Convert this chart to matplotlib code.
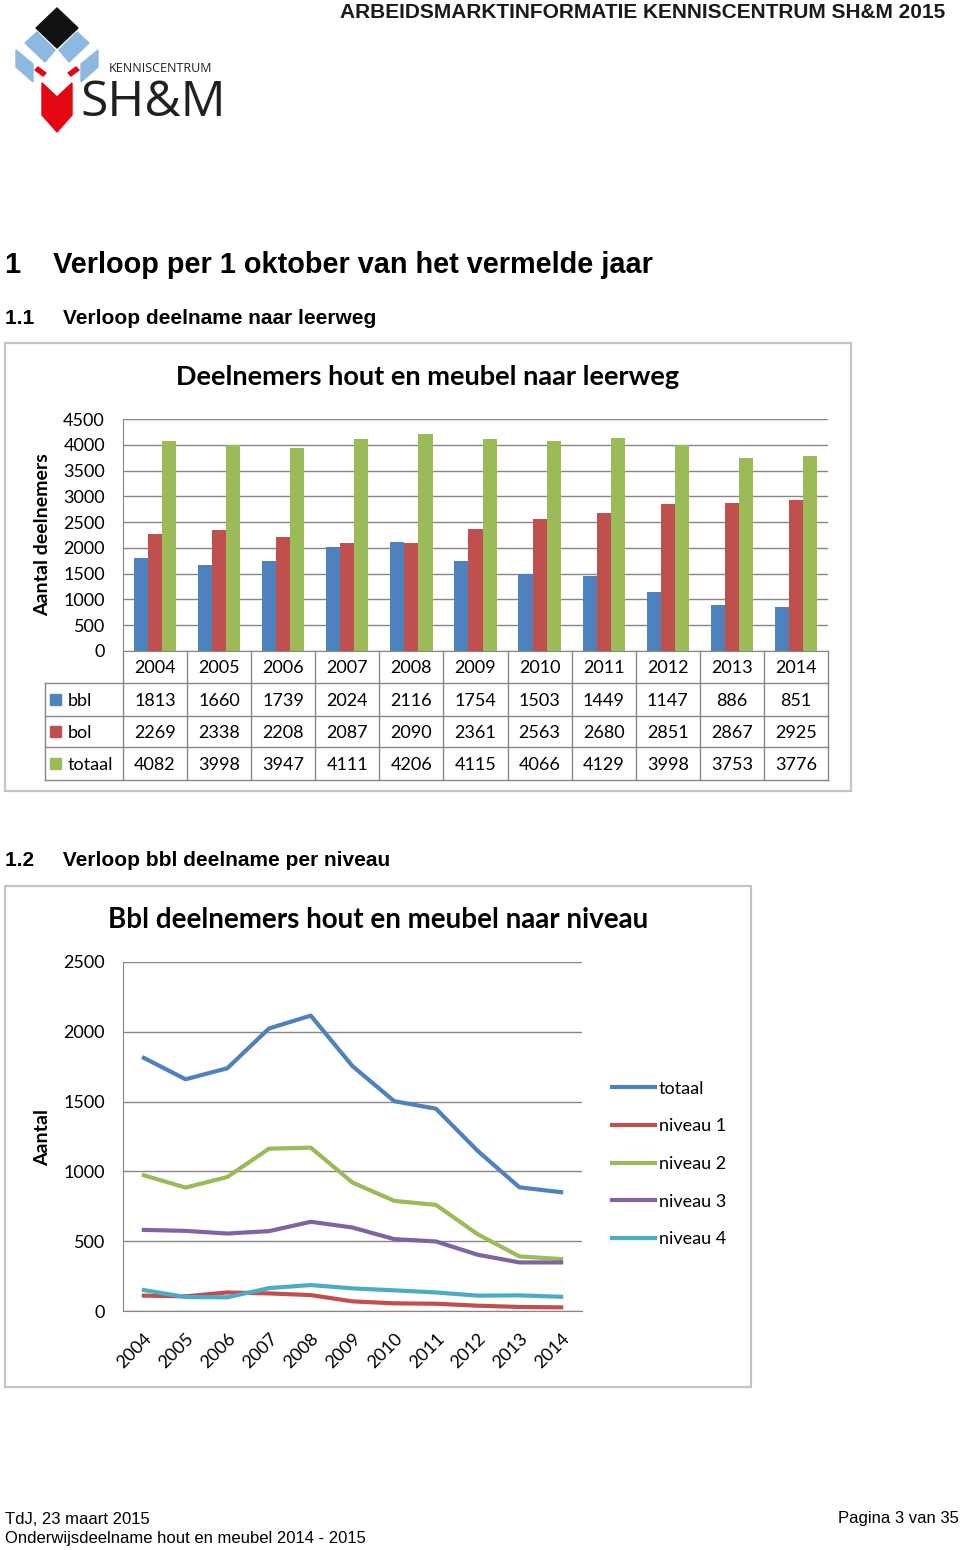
import numpy as np
import matplotlib.pyplot as plt
from matplotlib.patches import Polygon, Rectangle

years = ['2004', '2005', '2006', '2007', '2008', '2009', '2010', '2011', '2012', '2013', '2014']
bbl = [1813, 1660, 1739, 2024, 2116, 1754, 1503, 1449, 1147, 886, 851]
bol = [2269, 2338, 2208, 2087, 2090, 2361, 2563, 2680, 2851, 2867, 2925]
totaal = [4082, 3998, 3947, 4111, 4206, 4115, 4066, 4129, 3998, 3753, 3776]

# bbl per niveau
niv_totaal = bbl
niveau1 = [110, 105, 133, 126, 114, 69, 55, 52, 38, 29, 26]
niveau2 = [972, 884, 960, 1163, 1170, 920, 789, 760, 550, 391, 372]
niveau3 = [581, 574, 555, 572, 639, 598, 515, 498, 403, 348, 348]
niveau4 = [150, 100, 98, 164, 186, 162, 148, 133, 110, 112, 102]

C_BLUE = '#4F81BD'
C_RED = '#C0504D'
C_GREEN = '#9BBB59'
C_PURPLE = '#8064A2'
C_CYAN = '#4BACC6'
GRID = '#868686'
CHART_FONT = ['Lato', 'DejaVu Sans']
DOC_FONT = ['Liberation Sans', 'DejaVu Sans']
FS = 13

W, H = 960, 1550
fig = plt.figure(figsize=(W / 100, H / 100), dpi=100)
bg = fig.add_axes([0, 0, 1, 1])
bg.set_xlim(0, W)
bg.set_ylim(H, 0)
bg.axis('off')


def px_rect(l, t, r, b):
    return [l / W, 1 - b / H, (r - l) / W, (b - t) / H]


# ---- page header / logo
bg.text(945, 12, 'ARBEIDSMARKTINFORMATIE KENNISCENTRUM SH&M 2015', ha='right', va='center',
        fontsize=15, fontweight='bold', family=DOC_FONT, color='#1a1a1a')

LB = '#8DB8DF'
bg.add_patch(Polygon([(57, 8), (78, 28), (57, 48), (36, 28)], color='#111111'))
bg.add_patch(Polygon([(25, 43), (37, 32), (55, 50), (45, 62)], color=LB))
bg.add_patch(Polygon([(89, 43), (77, 32), (59, 50), (69, 62)], color=LB))
bg.add_patch(Polygon([(16, 50), (33, 64), (33, 82), (16, 67)], color=LB))
bg.add_patch(Polygon([(98, 50), (81, 64), (81, 82), (98, 67)], color=LB))
bg.add_patch(Polygon([(35, 70), (38, 67), (46, 73), (43, 76)], color='#E30613'))
bg.add_patch(Polygon([(79, 70), (76, 67), (68, 73), (71, 76)], color='#E30613'))
bg.add_patch(Polygon([(42, 83), (57, 97), (72, 83), (72, 115), (57, 132), (42, 115)], color='#E30613'))
bg.text(109, 68, 'KENNISCENTRUM', ha='left', va='center', fontsize=9, family=['Open Sans', 'DejaVu Sans'],
        color='#231F20')
bg.text(80, 103, 'SH&M', ha='left', va='center', fontsize=36, family=['Open Sans', 'DejaVu Sans'],
        color='#231F20')

bg.text(5, 265, '1    Verloop per 1 oktober van het vermelde jaar', ha='left', va='center',
        fontsize=20.8, fontweight='bold', family=DOC_FONT, color='black')
bg.text(5, 318, '1.1     Verloop deelname naar leerweg', ha='left', va='center',
        fontsize=15, fontweight='bold', family=DOC_FONT, color='black')
bg.text(5, 861, '1.2     Verloop bbl deelname per niveau', ha='left', va='center',
        fontsize=15, fontweight='bold', family=DOC_FONT, color='black')

# chart frames
bg.add_patch(Rectangle((5, 343), 846, 448, fill=False, edgecolor='#C4C4C4', lw=1.6))
bg.add_patch(Rectangle((5, 886), 746, 501, fill=False, edgecolor='#C4C4C4', lw=1.6))

# footer
bg.text(5, 1519, 'TdJ, 23 maart 2015', ha='left', va='center', fontsize=12, family=DOC_FONT)
bg.text(5, 1538, 'Onderwijsdeelname hout en meubel 2014 - 2015', ha='left', va='center',
        fontsize=12, family=DOC_FONT)
bg.text(959, 1519, 'Pagina 3 van 35', ha='right', va='center', fontsize=12, family=DOC_FONT)

# ---- chart 1: bars with data table
x = np.arange(len(years))
bw = 0.22
ax1 = fig.add_axes(px_rect(123, 419, 828, 651))
ax1.set_facecolor('none')
ax1.bar(x - bw, bbl, bw, color=C_BLUE, zorder=3)
ax1.bar(x, bol, bw, color=C_RED, zorder=3)
ax1.bar(x + bw, totaal, bw, color=C_GREEN, zorder=3)
ax1.set_xlim(-0.5, len(years) - 0.5)
ax1.set_ylim(0, 4500)
ax1.set_yticks(np.arange(0, 4501, 500))
ax1.set_xticks([])
ax1.yaxis.grid(True, color=GRID, lw=1)
ax1.set_axisbelow(True)
for s in ['top', 'right']:
    ax1.spines[s].set_visible(False)
ax1.spines['left'].set_color(GRID)
ax1.spines['bottom'].set_color(GRID)
ax1.tick_params(axis='y', length=0, pad=13, labelsize=FS)
for lab in ax1.get_yticklabels():
    lab.set_family(CHART_FONT)
bg.text(43, 535, 'Aantal deelnemers', rotation=90, ha='center', va='center', fontsize=14,
        fontweight='bold', family=CHART_FONT)
bg.text(428, 377, 'Deelnemers hout en meubel naar leerweg', ha='center', va='center', fontsize=19.5,
        fontweight='bold', family=CHART_FONT)

# table drawn below the bars
tl, tr = 123, 828
colw = (tr - tl) / len(years)
row_edges = [651, 683, 716, 747, 780]
for i in range(len(years) + 1):
    xx = tl + i * colw
    bg.plot([xx, xx], [651, 780], color=GRID, lw=1)
bg.plot([45, 45], [683, 780], color=GRID, lw=1)
for yy in row_edges[1:]:
    bg.plot([45, tr], [yy, yy], color=GRID, lw=1)
for i, yr in enumerate(years):
    bg.text(tl + (i + 0.5) * colw, (651 + 683) / 2 + 1, yr, ha='center', va='center',
            fontsize=FS, family=CHART_FONT)
rows = [('bbl', bbl, C_BLUE), ('bol', bol, C_RED), ('totaal', totaal, C_GREEN)]
for r, (name, vals, col) in enumerate(rows):
    yc = (row_edges[r + 1] + row_edges[r + 2]) / 2
    bg.add_patch(Rectangle((50, yc - 5.5), 11, 11, color=col))
    bg.text(68, yc + 1, name, ha='left', va='center', fontsize=FS, family=CHART_FONT)
    for i, v in enumerate(vals):
        bg.text(tl + (i + 0.5) * colw, yc + 1, str(v), ha='center', va='center',
                fontsize=FS, family=CHART_FONT)

# ---- chart 2: lines per niveau
ax2 = fig.add_axes(px_rect(123, 962, 582, 1311))
ax2.set_facecolor('none')
series = [('totaal', niv_totaal, C_BLUE), ('niveau 1', niveau1, C_RED), ('niveau 2', niveau2, C_GREEN),
          ('niveau 3', niveau3, C_PURPLE), ('niveau 4', niveau4, C_CYAN)]
for name, vals, col in series:
    ax2.plot(x, vals, color=col, lw=3, label=name, solid_joinstyle='round', zorder=3)
ax2.set_xlim(-0.5, len(years) - 0.5)
ax2.set_ylim(0, 2500)
ax2.set_yticks(np.arange(0, 2501, 500))
ax2.set_xticks(x)
ax2.set_xticklabels(years, rotation=45, ha='right', va='top', rotation_mode='anchor')
ax2.yaxis.grid(True, color=GRID, lw=1)
ax2.set_axisbelow(True)
for s in ['top', 'right']:
    ax2.spines[s].set_visible(False)
ax2.spines['left'].set_color(GRID)
ax2.spines['bottom'].set_color(GRID)
ax2.tick_params(axis='y', length=0, pad=13, labelsize=FS)
ax2.tick_params(axis='x', length=0, pad=14, labelsize=FS)
for lab in ax2.get_yticklabels() + ax2.get_xticklabels():
    lab.set_family(CHART_FONT)
bg.text(43, 1137, 'Aantal', rotation=90, ha='center', va='center', fontsize=14,
        fontweight='bold', family=CHART_FONT)
bg.text(378, 920, 'Bbl deelnemers hout en meubel naar niveau', ha='center', va='center', fontsize=20,
        fontweight='bold', family=CHART_FONT)
leg = ax2.legend(loc='center left', bbox_to_anchor=(612 / W, 1 - 1164 / H), bbox_transform=fig.transFigure,
                 frameon=False, prop={'family': CHART_FONT, 'size': FS}, handlelength=2.4,
                 handletextpad=0.2, labelspacing=1.2, borderpad=0, borderaxespad=0)

fig.savefig('out.png', dpi=100, facecolor='white')
